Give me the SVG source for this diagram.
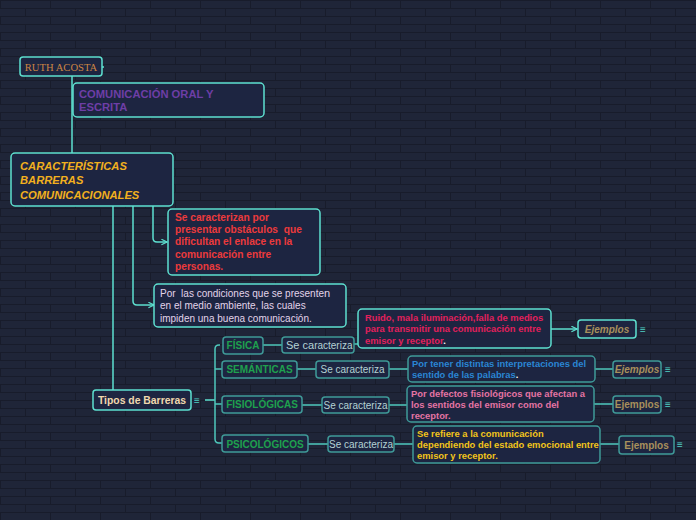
<svg xmlns="http://www.w3.org/2000/svg" width="696" height="520" viewBox="0 0 696 520">
<defs>
<pattern id="brick" width="50" height="16" patternUnits="userSpaceOnUse">
<rect width="50" height="16" fill="#1f2538"/>
<path d="M0 0.5H50M0 8.5H50M0.5 0V8M25.5 8V16" stroke="#181c2b" stroke-width="1" fill="none"/>
</pattern>
<marker id="arr" viewBox="0 0 10 10" refX="9" refY="5" markerWidth="7" markerHeight="7" orient="auto" markerUnits="userSpaceOnUse">
<path d="M1 1L9 5L1 9" fill="none" stroke="#5ee0d0" stroke-width="1.6"/>
</marker>
</defs>
<style>
.bx{fill:#1d2541;stroke:#5ee0d0;stroke-width:1.5}
.bd{fill:#1d2541;stroke:#3f9a98;stroke-width:1.5}
.ln{fill:none;stroke:#5ee0d0;stroke-width:1.5}
.ld{fill:none;stroke:#4fc8bc;stroke-width:1.5}
text{font-family:"Liberation Sans",Arial,sans-serif;white-space:pre}
.b{font-weight:bold}
.ham{fill:#4fd0c4;font-size:10px;font-weight:bold}
.ej{fill:#a8905c;font-size:10px;font-weight:bold}
.se{fill:#b4d2d4;font-size:10px}
.gr{fill:#1fa04e;font-size:10px;font-weight:bold}
</style>
<rect width="696" height="520" fill="url(#brick)"/>

<g id="connectors">
<path class="ln" d="M72 76V153"/>
<path class="ln" d="M102 67H104"/>
<path class="ln" d="M153 206V238Q153 242 157 242H167" marker-end="url(#arr)"/>
<path class="ln" d="M133 206V301Q133 305 137 305H154" marker-end="url(#arr)"/>
<path class="ln" d="M113 206V390"/>
<path class="ln" d="M205 400H215"/>
<path class="ld" d="M220 345H219Q215 345 215 349V439Q215 443 219 443H222"/>
<path class="ld" d="M215 369H222M215 404H222"/>
<path class="ld" d="M263 345H282"/>
<path class="ld" d="M297 369H316"/>
<path class="ld" d="M302 405H322"/>
<path class="ld" d="M308 444H328"/>
<path class="ld" d="M354 344H358"/>
<path class="ld" d="M389 369H408"/>
<path class="ld" d="M389 405H407"/>
<path class="ld" d="M394 444H413"/>
<path class="ln" d="M551 329H577" marker-end="url(#arr)"/>
<path class="ld" d="M595 369H613"/>
<path class="ld" d="M594 404H613"/>
<path class="ld" d="M600 444H619"/>
</g>

<g id="ruth">
<rect class="bx" x="20" y="57" width="82" height="19" rx="3"/>
<text x="61" y="71" text-anchor="middle" style="font-family:'Liberation Serif',serif" font-size="10.6" fill="#cc8443">RUTH ACOSTA</text>
</g>

<g id="comunicacion">
<rect class="bx" x="73" y="83" width="191" height="34" rx="4"/>
<text class="b" font-size="11.2" fill="#6e3ea6"><tspan x="79" y="98">COMUNICACIÓN ORAL Y</tspan><tspan x="79" y="111">ESCRITA</tspan></text>
</g>

<g id="caracteristicas">
<rect class="bx" x="11" y="153" width="162" height="53" rx="4"/>
<text class="b" font-style="italic" font-size="11.2" fill="#f2b01e"><tspan x="20" y="170">CARACTERÍSTICAS</tspan><tspan x="20" y="184">BARRERAS</tspan><tspan x="20" y="199">COMUNICACIONALES</tspan></text>
</g>

<g id="obstaculos">
<rect class="bx" x="168" y="209" width="152" height="66" rx="4"/>
<text class="b" font-size="10.2" fill="#ec3a3c"><tspan x="175" y="221">Se caracterizan por</tspan><tspan x="175" y="233">presentar obstáculos  que</tspan><tspan x="175" y="245">dificultan el enlace en la</tspan><tspan x="175" y="258">comunicación entre</tspan><tspan x="175" y="270">personas.</tspan></text>
</g>

<g id="condiciones">
<rect class="bx" x="154" y="284" width="192" height="43" rx="4"/>
<text font-size="10" fill="#e2d4ea"><tspan x="160" y="297">Por  las condiciones que se presente<tspan font-size="11">n</tspan></tspan><tspan x="160" y="309">en el medio ambiente, las cuales</tspan><tspan x="160" y="322">impiden una buena comunicación.</tspan></text>
</g>

<g id="tipos">
<rect class="bx" x="93" y="390" width="98" height="20" rx="3"/>
<text class="b" x="142" y="403.5" text-anchor="middle" font-size="10.4" fill="#f0d8ae">Tipos de Barreras</text>
<text class="ham" x="194" y="404">≡</text>
</g>

<g id="fisica">
<rect class="bd" x="223" y="337" width="40" height="17" rx="3"/>
<text class="gr" x="243" y="349" text-anchor="middle">FÍSICA</text>
</g>
<g id="semanticas">
<rect class="bd" x="222" y="361" width="75" height="17" rx="3"/>
<text class="gr" x="259.5" y="373" text-anchor="middle">SEMÁNTICAS</text>
</g>
<g id="fisiologicas">
<rect class="bd" x="222" y="396" width="80" height="17" rx="3"/>
<text class="gr" x="262" y="408" text-anchor="middle">FISIOLÓGICAS</text>
</g>
<g id="psicologicos">
<rect class="bd" x="222" y="435" width="86" height="17" rx="3"/>
<text class="gr" x="265" y="447.5" text-anchor="middle">PSICOLÓGICOS</text>
</g>

<g id="se1">
<rect class="bd" x="282" y="337" width="72" height="16" rx="3"/>
<text class="se" x="286" y="348.5"><tspan font-size="11">Se ca</tspan>racteriza</text>
</g>
<g id="se2">
<rect class="bd" x="316" y="361" width="73" height="17" rx="3"/>
<text class="se" x="352.5" y="373" text-anchor="middle" font-size="10.3">Se caracteriza</text>
</g>
<g id="se3">
<rect class="bd" x="322" y="397" width="67" height="16" rx="3"/>
<text class="se" x="355.5" y="408.5" text-anchor="middle" font-size="9">Se caracteriza</text>
</g>
<g id="se4">
<rect class="bd" x="328" y="436" width="66" height="16" rx="3"/>
<text class="se" x="361" y="447.5" text-anchor="middle" font-size="9">Se caracteriza</text>
</g>

<g id="ruido">
<rect class="bx" x="358" y="309" width="193" height="39" rx="4"/>
<text class="b" font-size="9.4" fill="#e2205c"><tspan x="365" y="320.5">Ruido, mala iluminación,falla de medios</tspan><tspan x="365" y="332">para transmitir una comunicación entre</tspan><tspan x="365" y="343.5">emisor y receptor<tspan fill="#ffffff">.</tspan></tspan></text>
</g>
<g id="interpretaciones">
<rect class="bd" x="408" y="356" width="187" height="26" rx="4"/>
<text class="b" font-size="9.4" fill="#2a86d4"><tspan x="412" y="366.5">Por tener distintas interpretaciones del</tspan><tspan x="412" y="378">sentido de las palabras<tspan fill="#ffffff">.</tspan></tspan></text>
</g>
<g id="defectos">
<rect class="bd" x="407" y="386" width="187" height="36" rx="4"/>
<text class="b" font-size="9.4" fill="#e474a4"><tspan x="411" y="396.5">Por defectos fisiológicos que afectan a</tspan><tspan x="411" y="407.5">los sentidos del emisor como del</tspan><tspan x="411" y="418.5">receptor.</tspan></text>
</g>
<g id="emocional">
<rect class="bd" x="413" y="426" width="187" height="37" rx="4"/>
<text class="b" font-size="9.4" fill="#f2c41a"><tspan x="417" y="436.5">Se refiere a la comunicación</tspan><tspan x="417" y="447.5">dependiendo del estado emocional entre</tspan><tspan x="417" y="458.5">emisor y receptor.</tspan></text>
</g>

<g id="ej1">
<rect class="bx" x="578" y="320" width="58" height="18" rx="3"/>
<text class="ej" x="607" y="332.5" text-anchor="middle" font-style="italic">Ejemplos</text>
<text class="ham" x="640" y="333">≡</text>
</g>
<g id="ej2">
<rect class="bd" x="613" y="361" width="48" height="17" rx="3"/>
<text class="ej" x="637" y="373" text-anchor="middle" font-style="italic" font-size="9.5">Ejemplos</text>
<text class="ham" x="665" y="373">≡</text>
</g>
<g id="ej3">
<rect class="bd" x="613" y="396" width="48" height="17" rx="3"/>
<text class="ej" x="637" y="408" text-anchor="middle" font-size="9.5">Ejemplos</text>
<text class="ham" x="665" y="408">≡</text>
</g>
<g id="ej4">
<rect class="bd" x="619" y="436" width="55" height="18" rx="3"/>
<text class="ej" x="646.5" y="449" text-anchor="middle" font-size="10.5">Ejemplos</text>
<text class="ham" x="677" y="448">≡</text>
</g>
</svg>
